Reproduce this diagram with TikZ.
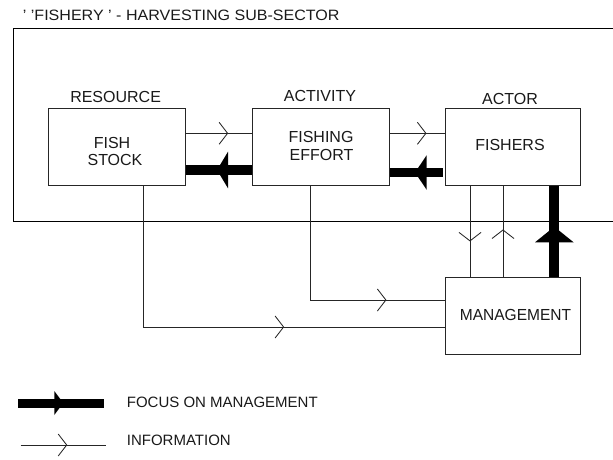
\documentclass[tikz,border=0pt]{standalone}
\usepackage{fontspec}
\setmainfont{Liberation Sans}
\usetikzlibrary{calc,decorations.markings}
\tikzset{
  box/.style={draw=black!85, line width=0.9pt, inner sep=0pt, anchor=north west, minimum height=76.7pt},
  lbl/.style={font=\fontsize{16}{17}\selectfont, inner sep=0pt, anchor=base, text=black!90},
  leg/.style={font=\fontsize{15}{16}\selectfont, inner sep=0pt, anchor=base west, text=black!90},
  info/.style={draw=black!85, line width=0.85pt, postaction={decorate},
    decoration={markings, mark=at position #1 with {\draw[line width=0.85pt, black!85] (-8.5pt,11pt) -- (0pt,0pt) -- (-8.5pt,-11pt);}}},
  focus/.style n args={4}{draw=black, line width=#1, postaction={decorate},
    decoration={markings, mark=at position #2 with {\fill[black] (0pt,0pt) -- (-#3,#4) -- (-#3,-#4) -- cycle;}}}
}
\begin{document}
\begin{tikzpicture}[x=1pt,y=-1pt]
\useasboundingbox (0,0) rectangle (613,459);
\clip (0,0) rectangle (613,459);
% frame and title
\node[draw=black, line width=1pt, inner sep=0pt, anchor=north west, minimum width=620pt, minimum height=193.3pt] (frame) at (12.7,27.7) {};
\node[font=\fontsize{15}{16}\selectfont, inner sep=0pt, anchor=base west, text=black!90] (title) at (22.7,20.7) {\scalebox{1.07}[1]{' 'FISHERY ' - HARVESTING SUB-SECTOR}};
% boxes
\node[box, minimum width=137pt] (fish) at (47.7,108.3) {};
\node[box, minimum width=137.3pt] (effort) at (251.7,108.3) {};
\node[box, minimum width=134.7pt] (fishers) at (445.3,108.3) {};
\node[box, minimum width=135pt] (mgmt) at (445,277.3) {};
% labels
\node[lbl] (resource) at (115.6,102) {RESOURCE};
\node[lbl] (activity) at (320,101.7) {ACTIVITY};
\node[lbl] (actor) at (510,104) {ACTOR};
\node[lbl] (fishtxt) at (112,148.3) {FISH};
\node[lbl] (stocktxt) at (115,165.7) {STOCK};
\node[lbl] (fishingtxt) at (321,142.7) {FISHING};
\node[lbl] (efforttxt) at (321.5,160.7) {EFFORT};
\node[lbl] (fisherstxt) at (510,150.7) {FISHERS};
\node[lbl] (mgmttxt) at (515.5,320) {\scalebox{0.97}[1]{MANAGEMENT}};
% information connectors
\draw[info=42pt] ($(fish.north east)+(0,25)$) -- ($(effort.north west)+(0,25)$);
\draw[info=36pt] ($(effort.north east)+(0,25)$) -- ($(fishers.north west)+(0,25)$);
\draw[info=55pt] ($(fishers.south west)+(24.7,0)$) -- ($(mgmt.north west)+(25,0)$);
\draw[info=47.3pt] ($(mgmt.north west)+(58,0)$) -- ($(fishers.south west)+(57.7,0)$);
\draw[info=190pt] ($(effort.south west)+(58.3,0)$) |- ($(mgmt.north west)+(0,22.7)$);
\draw[info=281.4pt] ($(fish.south west)+(95.6,0)$) |- ($(mgmt.north west)+(0,49.7)$);
% focus on management connectors
\draw[focus={10pt}{34.7pt}{11pt}{18.3pt}] ($(effort.north west)+(0,61.7)$) -- ($(fish.north east)+(0,61.7)$);
\draw[focus={9.6pt}{27.7pt}{11.7pt}{17.3pt}] ($(fishers.north west)+(-2.6,64.2)$) -- ($(effort.north east)+(0,64.2)$);
\draw[focus={10pt}{50.6pt}{15.6pt}{19.3pt}] ($(mgmt.north west)+(109.3,0)$) -- ($(fishers.south west)+(109,0)$);
% legend
\coordinate (lf1) at (18.3,403);
\coordinate (lf2) at (104,403);
\coordinate (li1) at (20.7,445);
\coordinate (li2) at (106,445);
\draw[focus={9pt}{45pt}{9pt}{12pt}] (lf1) -- (lf2);
\draw[info=46pt] (li1) -- (li2);
\node[leg] (legfocus) at (126.7,407.3) {FOCUS ON MANAGEMENT};
\node[leg] (leginfo) at (126.7,445) {INFORMATION};
\end{tikzpicture}
\end{document}
